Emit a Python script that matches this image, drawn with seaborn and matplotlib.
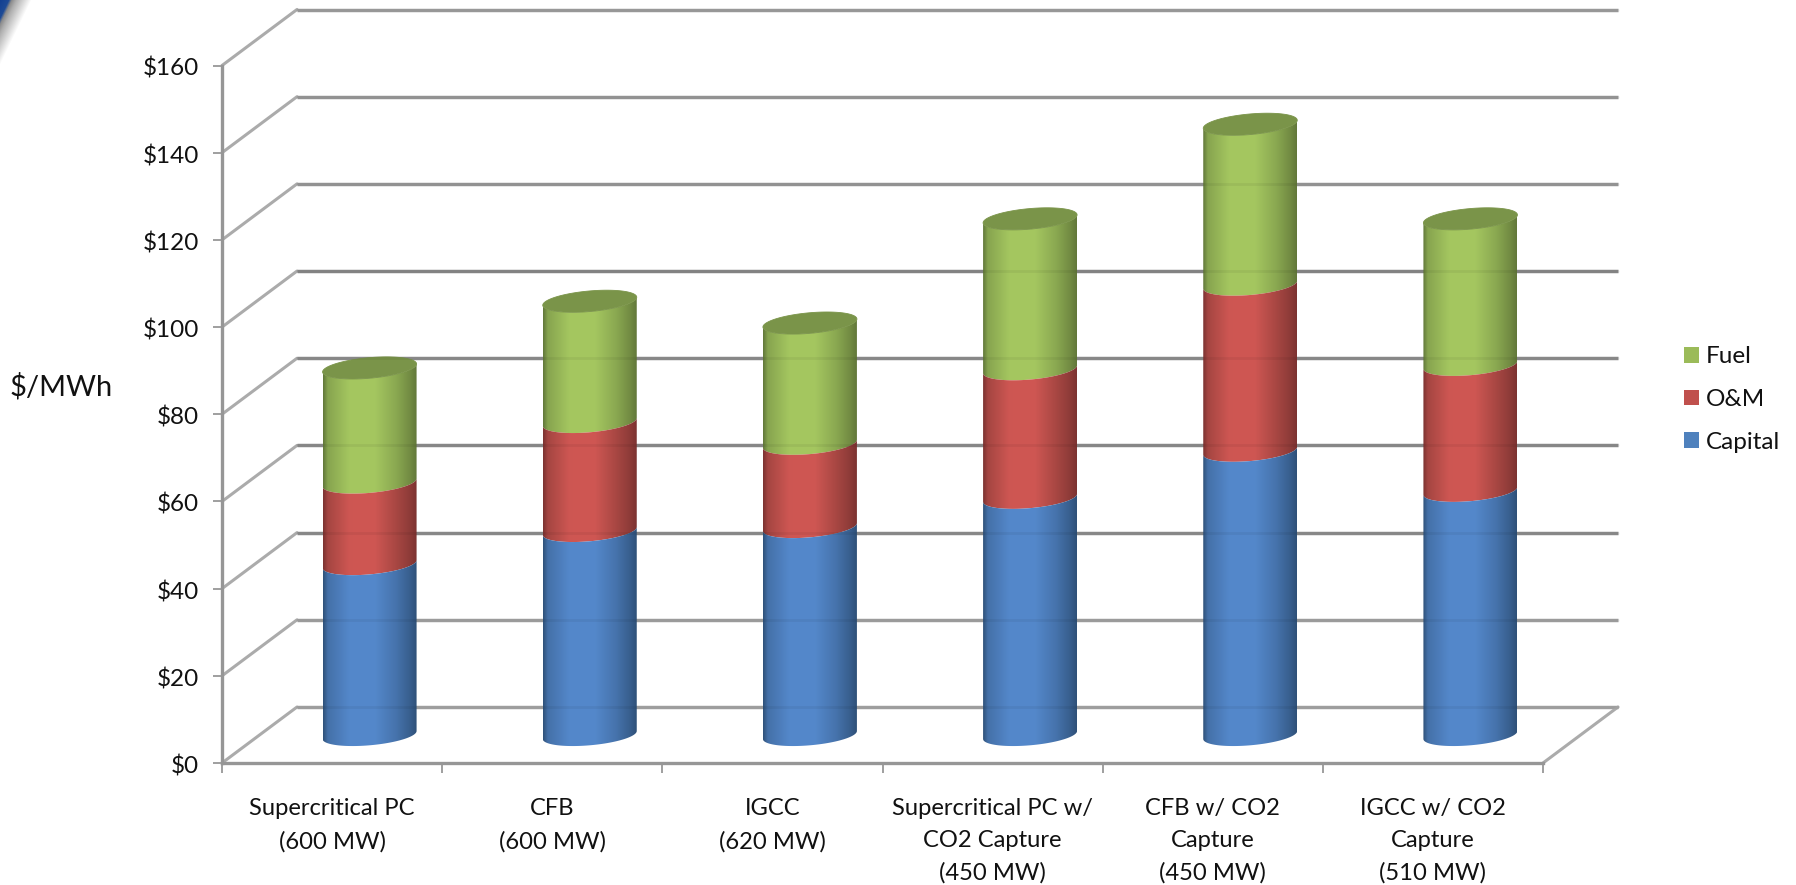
import numpy as np
import pandas as pd
import matplotlib
matplotlib.use("Agg")
import matplotlib.pyplot as plt
from matplotlib.patches import Patch, PathPatch, Polygon
from matplotlib.path import Path
from matplotlib.colors import to_rgb
from matplotlib.transforms import ScaledTranslation
import seaborn as sns

# Levelized cost of electricity by plant type, $/MWh
plants = [
    "Supercritical PC\n(600 MW)",
    "CFB\n(600 MW)",
    "IGCC\n(620 MW)",
    "Supercritical PC w/\nCO2 Capture\n(450 MW)",
    "CFB w/ CO2\nCapture\n(450 MW)",
    "IGCC w/ CO2\nCapture\n(510 MW)",
]
capital = [39.2, 46.8, 47.7, 54.4, 65.2, 56.0]
om = [18.7, 25.0, 19.1, 29.5, 38.1, 28.9]
fuel = [26.3, 27.7, 27.7, 34.5, 36.8, 33.5]
series_names = ["Capital", "O&M", "Fuel"]
y_ticks = [0, 20, 40, 60, 80, 100, 120, 140, 160]

legend_colors = {"Capital": "#4F81BD", "O&M": "#C0504D", "Fuel": "#9BBB59"}
# Cylinder shading stops: edge, mid, highlight
shades = {
    "Capital": ("#2F5179", "#4673AC", "#5488CB"),
    "O&M": ("#7C3331", "#A84743", "#CF5753"),
    "Fuel": ("#62783A", "#8AA851", "#A5C760"),
}
top_cap_color = "#7A9449"

W, H, DPI = 1796, 885, 100
AX_L, AX_R, AX_T, AX_B = 222, 1543, 65.5, 763
LABEL_SIZE = 17.5

sns.set_theme(style="white")
plt.rcParams["font.family"] = ["Lato", "DejaVu Sans"]
fig = plt.figure(figsize=(W / DPI, H / DPI), dpi=DPI, facecolor="white")
ax = fig.add_axes([AX_L / W, 1 - AX_B / H, (AX_R - AX_L) / W, (AX_B - AX_T) / H])

# Stacked heights as cumulative totals, tallest series first so all stay visible
cum_om = np.add(capital, om)
cum_fuel = cum_om + np.array(fuel)
frame = pd.DataFrame({
    "plant": plants * 3,
    "total": np.concatenate([cum_fuel, cum_om, capital]),
    "series": ["Fuel"] * 6 + ["O&M"] * 6 + ["Capital"] * 6,
})
BAR_W = 94 / 220.17
sns.barplot(data=frame, x="plant", y="total", hue="series", dodge=False, width=BAR_W,
            palette=legend_colors, legend=False, ax=ax, order=plants,
            hue_order=["Fuel", "O&M", "Capital"], zorder=5)

ax.set_xlim(-0.5, 5.5)
ax.set_ylim(0, 160)
px_x = (AX_R - AX_L) / 6
px_y = (AX_B - AX_T) / 160
DX, DY = 75 / px_x, 56 / px_y          # depth of the floor in data units
ARC_B, ARC_S = 10.3 / px_y, 4 / px_y   # ellipse height and tilt of the cylinder ends

GRID_BACK = {0: "#A6A6A6", 20: "#A3A3A3", 40: "#8F8F8F", 60: "#8E8E8E", 80: "#8F8F8F",
             100: "#8A8A8A", 120: "#9A9A9A", 140: "#9A9A9A", 160: "#A0A0A0"}

# Back wall and side wall gridlines
for v in y_ticks:
    ax.plot([-0.5, -0.5 + DX], [v, v + DY], color="#ABABAB", lw=2.2, clip_on=False, zorder=1,
            solid_capstyle="round")
    ax.plot([-0.5 + DX, 5.5 + DX], [v + DY, v + DY], color=GRID_BACK[v], lw=2.5, clip_on=False,
            zorder=1, solid_capstyle="butt")
ax.plot([5.5, 5.5 + DX], [0, DY], color="#ABABAB", lw=2.2, clip_on=False, zorder=1)


def end_arc(cx, cy, half_w, t):
    return np.column_stack([cx + half_w * np.cos(t),
                            cy + ARC_B * np.sin(t) + ARC_S * np.cos(t)])


def shaded_strip(stops):
    edge, mid, high = [np.array(to_rgb(c)) for c in stops]
    pos = [0.0, 0.05, 0.28, 0.55, 0.78, 0.93, 1.0]
    cols = np.array([edge, mid * 0.92 + edge * 0.08, high * 0.97 + mid * 0.03, high,
                     mid, edge * 0.6 + mid * 0.4, edge])
    xs = np.linspace(0, 1, 200)
    return np.column_stack([np.interp(xs, pos, cols[:, i]) for i in range(3)])[None, :, :]


# Turn each stacked bar into a shaded cylinder set back by half the floor depth
containers = {name: c for name, c in zip(["Fuel", "O&M", "Capital"], ax.containers)}
front = np.linspace(np.pi, 2 * np.pi, 60)
for k in range(len(plants)):
    lower = 0.0
    for name in series_names:
        bar = containers[name][k]
        x0, w, upper = bar.get_x(), bar.get_width(), bar.get_height()
        bar.set_visible(False)
        cx = x0 + w / 2 + DX / 2
        base = DY / 2
        low_edge = end_arc(cx, lower + base, w / 2, front)
        up_edge = end_arc(cx, upper + base, w / 2, front[::-1])
        verts = np.vstack([low_edge, up_edge, low_edge[:1]])
        shape = PathPatch(Path(verts), transform=ax.transData, fc="none", ec="none")
        ax.add_patch(shape)
        img = ax.imshow(shaded_strip(shades[name]), extent=[cx - w / 2, cx + w / 2, lower, upper + 2 * base],
                        aspect="auto", zorder=5 + (2 - series_names.index(name)) * 0.1,
                        interpolation="bilinear", clip_on=True)
        img.set_clip_path(shape)
        if name == "Fuel":
            cap = end_arc(cx, upper + base, w / 2, np.linspace(0, 2 * np.pi, 120))
            ax.add_patch(Polygon(cap, closed=True, fc=top_cap_color, ec=top_cap_color, lw=0.6, zorder=5.5,
                                 clip_on=False))
        lower = upper

# Gridlines show very faintly through the cylinders
for v in y_ticks:
    ax.plot([-0.5 + DX, 5.5 + DX], [v + DY, v + DY], color="black", alpha=0.05, lw=2.0, clip_on=False, zorder=6)
ax.set_xlim(-0.5, 5.5)
ax.set_ylim(0, 160)

# Axes, ticks and labels
for side in ("top", "right"):
    ax.spines[side].set_visible(False)
for side in ("left", "bottom"):
    ax.spines[side].set_color("#969696")
    ax.spines[side].set_linewidth(2.4)
    ax.spines[side].set_zorder(7)
ax.set_yticks(y_ticks)
ax.set_yticklabels([f"${v}" for v in y_ticks])
ax.set_xticks(range(6))
ax.set_xticklabels(plants, linespacing=1.64)
ax.set_xticks(np.arange(-0.5, 6, 1), minor=True)
ax.tick_params(axis="x", which="major", length=0, pad=25.5, labelsize=17.1, colors="#111111")
ax.tick_params(axis="x", which="minor", length=7, width=1.2, color="#8F8F8F", bottom=True)
ax.tick_params(axis="y", length=6.5, width=1.2, color="#8F8F8F", pad=10, labelsize=LABEL_SIZE,
               labelcolor="#111111", left=True)
nudge = ScaledTranslation(0, -1.5 / DPI, fig.dpi_scale_trans)
for lab in ax.get_yticklabels():
    lab.set_transform(lab.get_transform() + nudge)
ax.set_xlabel("")
ax.set_ylabel("")
fig.text(61 / W, 1 - 387 / H, "$/MWh", fontsize=20.9, color="#111111", ha="center", va="center")

handles = [Patch(fc=legend_colors[n], ec="none", label=n) for n in ["Fuel", "O&M", "Capital"]]
ax.legend(handles=handles, loc="center left", bbox_to_anchor=(1684 / W, 1 - 399.5 / H),
          bbox_transform=fig.transFigure, frameon=False, fontsize=LABEL_SIZE, handlelength=0.62,
          handleheight=0.62, handletextpad=0.28, labelspacing=0.89, borderpad=0, borderaxespad=0,
          labelcolor="#111111")

# Blurred corner of the slide emblem, top left
corner = fig.add_axes([0, 0, 1, 1], facecolor="none", zorder=-1)
corner.set_xlim(0, W)
corner.set_ylim(H, 0)
corner.axis("off")
yy, xx = np.mgrid[0:70, 0:40] + 0.5
reach = xx / 30 + yy / 62
stop_at = [0.0, 0.30, 0.40, 0.55, 1.05]
rgb_stops = np.array([[18, 63, 145], [30, 75, 150], [140, 140, 140], [175, 175, 175], [255, 255, 255]]) / 255
emblem = np.dstack([np.interp(reach, stop_at, rgb_stops[:, i]) for i in range(3)])
corner.imshow(emblem, extent=[0, 40, 70, 0], aspect="auto", interpolation="bilinear")
corner.set_xlim(0, W)
corner.set_ylim(H, 0)

fig.savefig("out.png", dpi=DPI, facecolor="white")
